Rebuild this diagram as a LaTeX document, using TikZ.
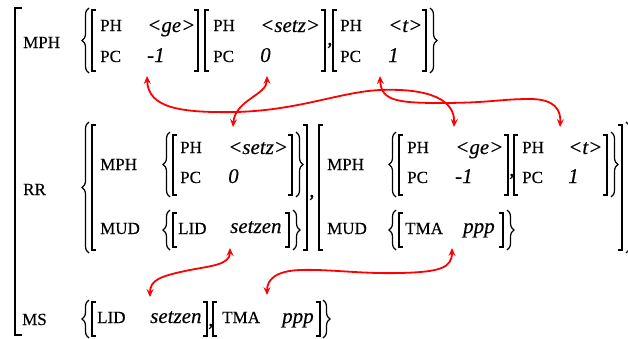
\documentclass[tikz,border=0pt]{standalone}
\usepackage{fontspec}
\setmainfont{Liberation Serif}
\newfontfamily\heavyserif[FakeBold=0.35]{Liberation Serif}
\usetikzlibrary{arrows.meta,decorations.pathreplacing,calc}
\newcommand{\lbk}[3]{\draw[brk] (#1+4,#2) -- (#1,#2) -- (#1,#3) -- (#1+4,#3);}
\newcommand{\rbk}[3]{\draw[brk] (#1-4,#2) -- (#1,#2) -- (#1,#3) -- (#1-4,#3);}
\newcommand{\lbc}[3]{\draw[brc] (#1,#3) -- (#1,#2);}
\newcommand{\rbc}[3]{\draw[brc] (#1,#2) -- (#1,#3);}
\tikzset{
  lab/.style={font=\heavyserif\fontsize{17}{20}\selectfont, anchor=base west, inner sep=0pt},
  val/.style={font=\heavyserif\fontsize{21}{24}\selectfont\itshape, anchor=base west, inner sep=0pt},
  brk/.style={line width=1.7pt, black},
  obrk/.style={line width=2.2pt, black},
  brc/.style={decorate, decoration={brace, amplitude=7pt}, line width=1.2pt},
  arr/.style={red, line width=1.8pt, arrows={Stealth[length=8pt,width=7pt,inset=3pt]-Stealth[length=8pt,width=7pt,inset=3pt]}}
}
\begin{document}
\begin{tikzpicture}[x=1pt,y=-1pt]
\useasboundingbox (0,0) rectangle (628,338);
\fill[white] (0,0) rectangle (628,338);
% outer bracket
\draw[obrk] (22,8) -- (15,8) -- (15,335) -- (22,335);
% ---------- top row MPH
\node[lab] (lmph) at (23,48) {MPH};
\lbc{89}{8}{73}
\lbk{92}{10}{71}
\node[lab] (p1) at (100,31) {PH};
\node[lab] (c1) at (100,62) {PC};
\node[val] (tge) at (147,32) {<ge>};
\node[val] (tm1) at (147,62) {-1};
\rbk{198}{10}{71}
\lbk{205}{10}{71}
\node[lab] (p2) at (213,31) {PH};
\node[lab] (c2) at (213,62) {PC};
\node[val] (tsetz) at (260,32) {<setz>};
\node[val] (t0) at (260,62) {0};
\rbk{325}{10}{71}
\node[val] (cma1) at (327,45) {,};
\lbk{333}{10}{71}
\node[lab] (p3) at (340,31) {PH};
\node[lab] (c3) at (340,62) {PC};
\node[val] (tt) at (388,32) {<t>};
\node[val] (t1) at (388,62) {1};
\rbk{426}{10}{71}
\rbc{430}{8}{73}
% ---------- RR row
\node[lab] (lrr) at (23,195) {RR};
\lbc{89}{122}{253}
\lbk{92}{125}{250}
\node[lab] (rmph1) at (100,170) {MPH};
\lbc{170}{132}{197}
\lbk{173}{135}{195}
\node[lab] (rp1) at (180,153) {PH};
\node[lab] (rc1) at (180,183) {PC};
\node[val] (rsetz) at (228,154) {<setz>};
\node[val] (r0) at (228,183) {0};
\rbk{292}{135}{195}
\rbc{296}{132}{197}
\node[lab] (rmud1) at (100,234) {MUD};
\lbc{170}{210}{250}
\lbk{173}{213}{247}
\node[lab] (rlid) at (178,234) {LID};
\node[val] (rsetzen) at (230,233) {setzen};
\rbk{289}{213}{247}
\rbc{293}{210}{250}
\rbk{307}{125}{250}
\node[val] (cma2) at (309,197) {,};
\lbk{319}{125}{250}
\node[lab] (rmph2) at (327,170) {MPH};
\lbc{396}{132}{197}
\lbk{399}{135}{195}
\node[lab] (rp2) at (407,153) {PH};
\node[lab] (rc2) at (407,183) {PC};
\node[val] (rge) at (455,154) {<ge>};
\node[val] (rm1) at (455,183) {-1};
\rbk{508}{135}{195}
\node[val] (cma3) at (509,176) {,};
\lbk{514}{135}{195}
\node[lab] (rp3) at (522,153) {PH};
\node[lab] (rc3) at (522,183) {PC};
\node[val] (rt) at (568,154) {<t>};
\node[val] (r1) at (568,183) {1};
\rbk{607}{135}{195}
\rbc{611}{132}{197}
\node[lab] (rmud2) at (327,234) {MUD};
\lbc{396}{210}{250}
\lbk{399}{213}{247}
\node[lab] (rtma) at (405,234) {TMA};
\node[val] (rppp) at (463,233) {ppp};
\rbk{503}{213}{247}
\rbc{507}{210}{250}
\rbk{622}{125}{250}
\rbc{626}{122}{253}
% ---------- MS row
\node[lab] (lms) at (22,325) {MS};
\lbc{89}{300}{338}
\lbk{92}{302}{336}
\node[lab] (mlid) at (97,323) {LID};
\node[val] (msetzen) at (150,323) {setzen};
\rbk{207}{302}{336}
\node[val] (cma4) at (208,326) {,};
\lbk{213}{302}{336}
\node[lab] (mtma) at (222,323) {TMA};
\node[val] (mppp) at (282,323) {ppp};
\rbk{320}{302}{336}
\rbc{323}{300}{338}
% ---------- arrows
\draw[arr] ($(tm1.base west)+(0,14)$) .. controls (148,108) and (180,113) .. (237,112)
  .. controls (300,110) and (340,92) .. (380,90)
  .. controls (430,88) and (455,100) .. ($(rge.base west)+(-1,-27)$);
\draw[arr] ($(t0.base west)+(7,14)$) .. controls (267,95) and (235,100) .. ($(rsetz.base west)+(5,-27)$);
\draw[arr] ($(t1.base west)+(-8,14)$) .. controls (381,100) and (395,103) .. (440,103)
  .. controls (490,103) and (500,99) .. (530,99)
  .. controls (555,99) and (561,110) .. ($(rt.base west)+(-8,-27)$);
\draw[arr] ($(rsetzen.base west)+(0,15)$) .. controls (230,265) and (210,266) .. (190,270)
  .. controls (160,276) and (150,280) .. ($(msetzen.base west)+(0,-26)$);
\draw[arr] ($(rppp.base west)+(-11,15)$) .. controls (452,268) and (440,272) .. (400,273)
  .. controls (360,274) and (330,269) .. (300,270)
  .. controls (275,271) and (267,280) .. ($(mppp.base west)+(-15,-28)$);
\end{tikzpicture}
\end{document}
